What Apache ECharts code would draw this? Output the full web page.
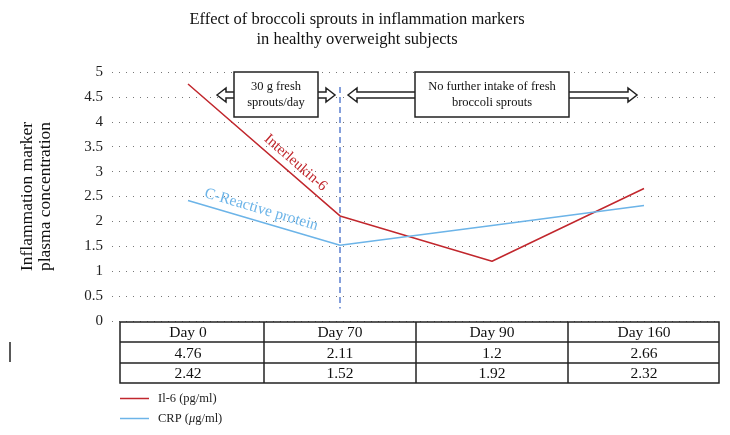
<!DOCTYPE html>
<html>
<head>
<meta charset="utf-8">
<script src="https://cdn.jsdelivr.net/npm/echarts@6/dist/echarts.min.js"></script>
<style>
  html, body { margin: 0; padding: 0; background: #fff; }
  #chart { width: 730px; height: 435px; }
</style>
</head>
<body>
<div id="chart"></div>
<script>
var days = ['Day 0', 'Day 70', 'Day 90', 'Day 160'];
var il6 = [4.76, 2.11, 1.2, 2.66];
var crp = [2.42, 1.52, 1.92, 2.32];
var il6Name = 'Il-6 (pg/ml)';
var crpName = 'CRP (\u03bcg/ml)';
var serif = 'Liberation Serif';
var red = '#c1272d';
var blue = '#6cb4e8';

var chart = echarts.init(document.getElementById('chart'));

var option = {
    backgroundColor: '#fff',
    animation: false,
    title: {
        text: 'Effect of broccoli sprouts in inflammation markers\nin healthy overweight subjects',
        left: 352,
        top: 5,
        textAlign: 'center',
        textStyle: {
            fontFamily: serif,
            fontSize: 16.5,
            fontWeight: 'normal',
            color: '#111',
            lineHeight: 20
        }
    },
    grid: { left: 112, right: 10, top: 72, bottom: 114 },
    legend: {
        orient: 'vertical',
        left: 115,
        top: 387,
        itemWidth: 29,
        itemHeight: 1.5,
        itemGap: 7,
        icon: 'rect',
        data: [il6Name, crpName],
        formatter: function (name) {
            if (name === crpName) {
                return 'CRP ({i|\u03bc}g/ml)';
            }
            return name;
        },
        textStyle: {
            fontFamily: serif,
            fontSize: 12.5,
            color: '#222',
            padding: [0, 0, 0, 4],
            rich: {
                i: { fontFamily: serif, fontSize: 12.5, fontStyle: 'italic', color: '#222' }
            }
        }
    },
    xAxis: {
        type: 'category',
        data: days,
        boundaryGap: true,
        axisLine: { show: false },
        axisTick: { show: false },
        axisLabel: { show: false },
        splitLine: { show: false }
    },
    yAxis: {
        type: 'value',
        min: 0,
        max: 5,
        interval: 0.5,
        name: 'Inflammation marker\nplasma concentration',
        nameLocation: 'middle',
        nameRotate: 90,
        nameGap: 58,
        nameTextStyle: {
            fontFamily: serif,
            fontSize: 17.5,
            color: '#111',
            lineHeight: 18
        },
        axisLine: { show: false },
        axisTick: { show: false },
        axisLabel: {
            fontFamily: serif,
            fontSize: 15,
            color: '#222',
            margin: 9
        },
        splitLine: {
            show: true,
            lineStyle: { color: '#777', width: 1, type: [1, 6] }
        }
    },
    series: [
        {
            name: il6Name,
            type: 'line',
            data: il6,
            symbol: 'none',
            lineStyle: { color: red, width: 1.5 },
            itemStyle: { color: red },
            z: 3,
            markLine: {
                silent: true,
                symbol: 'none',
                label: { show: false },
                lineStyle: { color: '#5b7fcf', width: 1.5, type: [6, 4] },
                data: [
                    [{ coord: ['Day 70', 4.7] }, { coord: ['Day 70', 0.25] }]
                ]
            }
        },
        {
            name: crpName,
            type: 'line',
            data: crp,
            symbol: 'none',
            lineStyle: { color: blue, width: 1.5 },
            itemStyle: { color: blue },
            z: 3
        }
    ]
};

chart.setOption(option);

// label along a segment: t is the fraction along it, d the shift above the line
function segmentLabel(text, values, t, d, color, size) {
    var p0 = chart.convertToPixel({ seriesIndex: 0 }, [0, values[0]]);
    var p1 = chart.convertToPixel({ seriesIndex: 0 }, [1, values[1]]);
    var dx = p1[0] - p0[0];
    var dy = p1[1] - p0[1];
    var len = Math.sqrt(dx * dx + dy * dy);
    var nx = dy / len;
    var ny = -dx / len;
    return {
        type: 'text',
        x: p0[0] + dx * t + nx * d,
        y: p0[1] + dy * t + ny * d,
        rotation: -Math.atan2(dy, dx),
        style: {
            text: text,
            fill: color,
            font: size + 'px "' + serif + '"',
            textAlign: 'center',
            textVerticalAlign: 'middle'
        },
        z: 10
    };
}

function doubleArrow(x0, x1, cy) {
    var hw = 9, hh = 7, sh = 3;
    return {
        type: 'polygon',
        shape: {
            points: [
                [x0, cy], [x0 + hw, cy - hh], [x0 + hw, cy - sh],
                [x1 - hw, cy - sh], [x1 - hw, cy - hh], [x1, cy],
                [x1 - hw, cy + hh], [x1 - hw, cy + sh],
                [x0 + hw, cy + sh], [x0 + hw, cy + hh]
            ]
        },
        style: { fill: '#fff', stroke: '#222', lineWidth: 1.5 },
        z: 5
    };
}

function noteBox(x, y, w, h, text) {
    return [
        {
            type: 'rect',
            shape: { x: x, y: y, width: w, height: h },
            style: { fill: '#fff', stroke: '#222', lineWidth: 1.5 },
            z: 6
        },
        {
            type: 'text',
            x: x + w / 2,
            y: y + h / 2,
            style: {
                text: text,
                fill: '#111',
                font: '12.5px "' + serif + '"',
                lineHeight: 16,
                textAlign: 'center',
                textVerticalAlign: 'middle'
            },
            z: 7
        }
    ];
}

function buildTable() {
    var els = [];
    var top = 322;
    var rowH = [20, 21, 20];
    var left = 120;
    var right = 719;
    var centers = days.map(function (d, i) {
        return chart.convertToPixel({ xAxisIndex: 0 }, i);
    });
    var band = centers.length > 1 ? centers[1] - centers[0] : 150;
    var rows = [
        days,
        il6.map(String),
        crp.map(String)
    ];
    var bottom = top + rowH[0] + rowH[1] + rowH[2];
    var lineStyle = { stroke: '#222', lineWidth: 1.5 };
    els.push({
        type: 'rect',
        shape: { x: left, y: top, width: right - left, height: bottom - top },
        style: { fill: '#fff', stroke: '#222', lineWidth: 1.5 },
        z: 4
    });
    var y = top;
    for (var r = 0; r < rows.length; r++) {
        if (r > 0) {
            els.push({ type: 'line', shape: { x1: left, y1: y, x2: right, y2: y }, style: lineStyle, z: 5 });
        }
        for (var c = 0; c < rows[r].length; c++) {
            els.push({
                type: 'text',
                x: centers[c],
                y: y + rowH[r] / 2 + 1,
                style: {
                    text: rows[r][c],
                    fill: '#111',
                    font: '15.5px "' + serif + '"',
                    textAlign: 'center',
                    textVerticalAlign: 'middle'
                },
                z: 6
            });
        }
        y += rowH[r];
    }
    for (var k = 1; k < centers.length; k++) {
        var bx = Math.round(centers[k] - band / 2);
        els.push({ type: 'line', shape: { x1: bx, y1: top, x2: bx, y2: bottom }, style: lineStyle, z: 5 });
    }
    return els;
}

var graphics = [];
graphics.push(doubleArrow(217, 335, 95));
graphics = graphics.concat(noteBox(234, 72, 84, 45, '30 g fresh\nsprouts/day'));
graphics.push(doubleArrow(348, 637, 95));
graphics = graphics.concat(noteBox(415, 72, 154, 45, 'No further intake of fresh\nbroccoli sprouts'));
graphics.push(segmentLabel('Interleukin-6', il6, 0.66, 11, red, 15));
graphics.push(segmentLabel('C-Reactive protein', crp, 0.46, 12, blue, 15.5));
graphics = graphics.concat(buildTable());
graphics.push({
    type: 'line',
    shape: { x1: 10, y1: 342, x2: 10, y2: 362 },
    style: { stroke: '#222', lineWidth: 1.5 },
    z: 5
});

chart.setOption({ graphic: graphics });
</script>
</body>
</html>
